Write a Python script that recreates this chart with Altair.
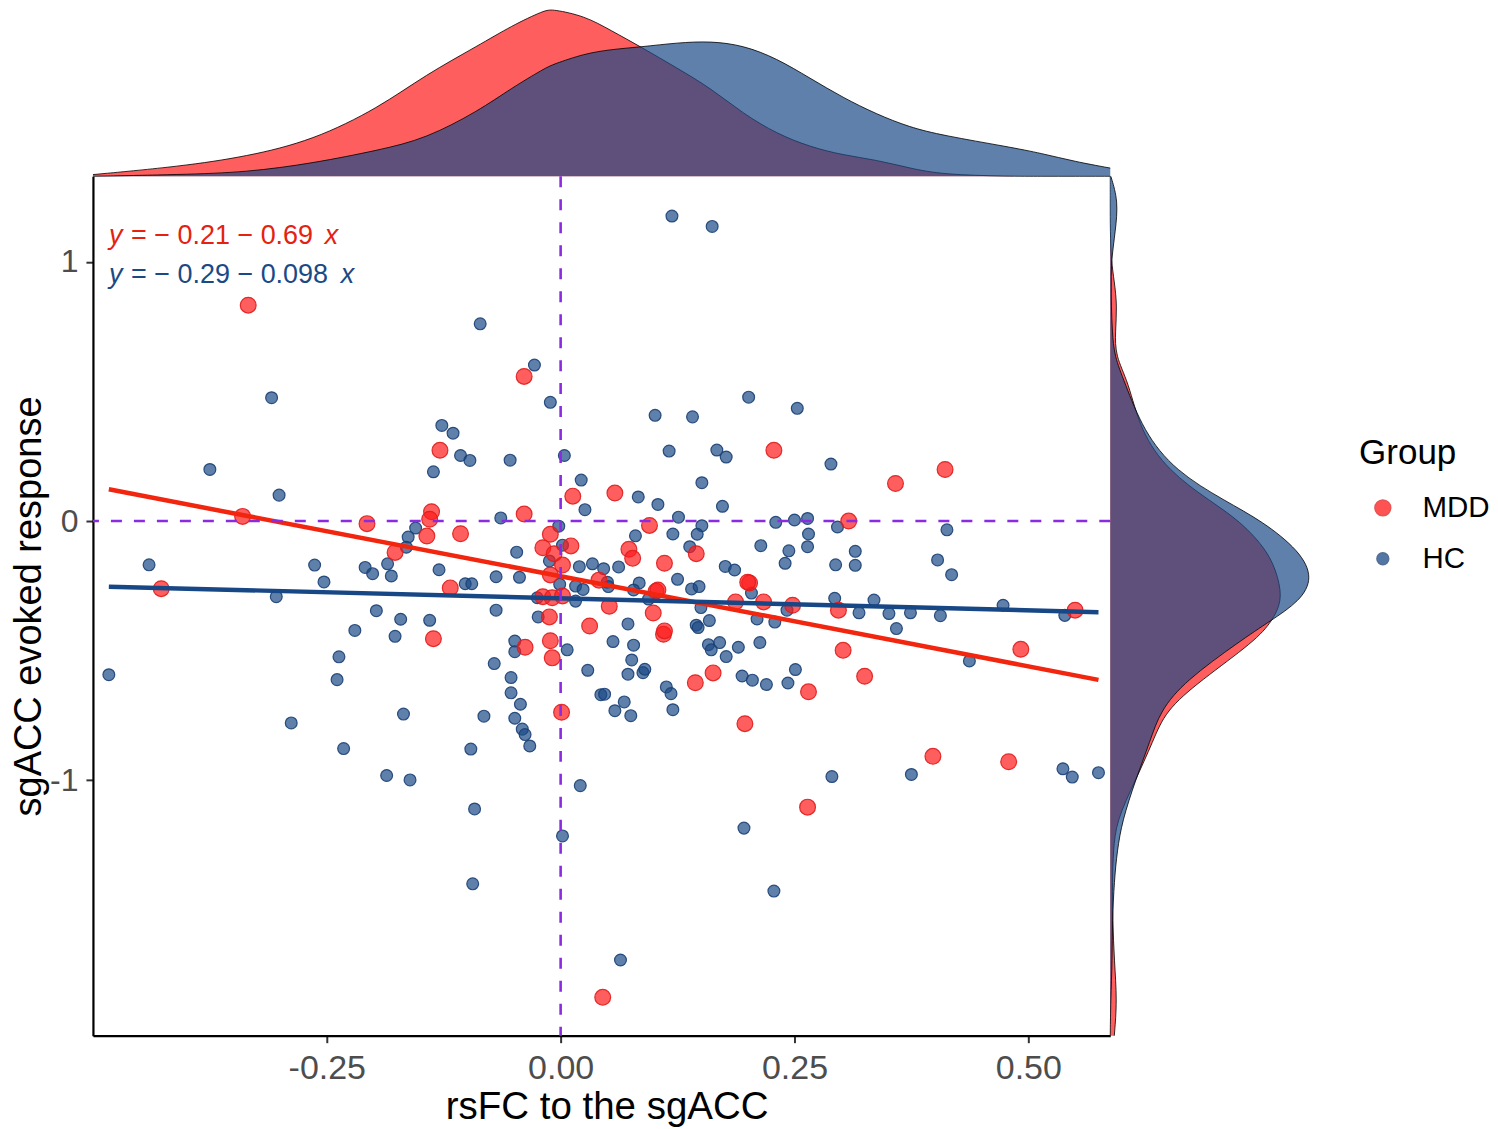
import altair as alt
import pandas as pd

# ---------------- data ----------------
hc_x = [-0.309, -0.086, -0.028, -0.011, -0.127, -0.115, -0.107, -0.097, -0.054, 0.004,
        -0.375, -0.136, 0.119, 0.162, 0.201, 0.101, 0.141, 0.253, 0.116, 0.167,
        0.177, 0.289, 0.151, -0.301, 0.022, 0.026, -0.064, -0.002, -0.155, -0.163,
        -0.165, -0.047, -0.440, -0.263, -0.209, -0.201, -0.185, -0.181, -0.130, -0.069,
        -0.044, -0.102, -0.095, -0.012, 0.020, 0.034, 0.002, -0.253, -0.304, -0.025,
        0.016, -0.001, 0.016, -0.197, -0.171, -0.140, -0.069, -0.024, -0.220, -0.177,
        -0.049, -0.049, 0.007, -0.237, -0.483, -0.239, -0.071, -0.053, 0.029, -0.053,
        -0.043, 0.043, -0.168, -0.288, -0.082, -0.049, -0.041, -0.038, -0.033, -0.232,
        -0.096, 0.083, 0.104, 0.173, 0.126, 0.151, 0.146, 0.120, 0.080, 0.138,
        0.230, 0.250, 0.264, 0.265, 0.264, 0.296, 0.214, 0.244, 0.240, 0.294,
        0.046, 0.062, 0.176, 0.186, 0.125, 0.084, 0.050, 0.051, 0.024, 0.078,
        0.140, 0.148, 0.094, 0.150, 0.204, 0.293, 0.242, 0.210, 0.229, 0.072,
        0.159, 0.145, 0.147, 0.056, 0.078, 0.158, 0.161, 0.170, 0.177, 0.190,
        0.213, 0.076, 0.072, 0.088, 0.090, 0.194, 0.205, 0.220, 0.243, 0.251,
        0.047, 0.068, 0.058, 0.075, 0.113, 0.118, 0.120, 0.315, 0.413, 0.315,
        0.403, 0.418, 0.335, 0.319, 0.351, 0.374, 0.406, 0.359, 0.473, 0.539,
        0.437, -0.186, -0.161, 0.021, -0.092, 0.002, -0.094, 0.290, 0.375, 0.537,
        0.547, 0.575, 0.196, 0.228, 0.064]
hc_y = [0.476, 0.761, 0.602, 0.458, 0.369, 0.339, 0.253, 0.234, 0.235, 0.253,
        0.199, 0.190, 1.177, 1.137, 0.478, 0.408, 0.402, 0.435, 0.270, 0.274,
        0.247, 0.220, 0.148, 0.100, 0.158, 0.044, 0.012, -0.020, -0.027, -0.062,
        -0.101, -0.120, -0.169, -0.170, -0.179, -0.203, -0.165, -0.212, -0.188, -0.215,
        -0.217, -0.242, -0.242, -0.154, -0.176, -0.165, -0.093, -0.235, -0.292, -0.296,
        -0.309, -0.244, -0.251, -0.346, -0.379, -0.383, -0.344, -0.370, -0.422, -0.445,
        -0.463, -0.504, -0.497, -0.524, -0.593, -0.612, -0.550, -0.604, -0.576, -0.663,
        -0.707, -0.670, -0.745, -0.779, -0.753, -0.761, -0.803, -0.824, -0.868, -0.878,
        -0.880, 0.093, 0.064, 0.057, 0.015, -0.018, -0.051, -0.050, -0.057, -0.099,
        -0.005, 0.004, 0.010, -0.050, -0.099, -0.023, -0.095, -0.115, -0.163, -0.169,
        -0.184, -0.177, -0.175, -0.189, -0.225, -0.239, -0.236, -0.253, -0.264, -0.266,
        -0.262, -0.253, -0.301, -0.334, -0.278, -0.298, -0.344, -0.378, -0.390, -0.397,
        -0.384, -0.402, -0.411, -0.465, -0.479, -0.477, -0.497, -0.469, -0.523, -0.487,
        -0.469, -0.536, -0.591, -0.585, -0.572, -0.598, -0.614, -0.631, -0.625, -0.573,
        -0.668, -0.698, -0.732, -0.751, -0.640, -0.666, -0.728, -0.117, -0.034, -0.171,
        -0.150, -0.207, -0.305, -0.354, -0.357, -0.354, -0.365, -0.415, -0.325, -0.364,
        -0.540, -0.982, -0.999, -1.021, -1.111, -1.215, -1.400, -0.986, -0.978, -0.956,
        -0.988, -0.971, -1.185, -1.428, -1.694]

mdd_x = [-0.334, -0.039, -0.129, 0.228, 0.411, 0.358, -0.340, -0.207, -0.138, -0.140,
         -0.143, -0.107, -0.177, -0.039, 0.013, -0.011, -0.019, -0.007, 0.011, 0.002,
         -0.011, 0.041, -0.427, -0.118, -0.019, -0.009, 0.002, -0.012, 0.031, -0.136,
         -0.038, -0.011, -0.009, 0.001, 0.058, 0.095, 0.073, 0.077, 0.111, 0.145,
         0.102, 0.104, 0.202, 0.200, 0.187, 0.217, 0.248, 0.297, 0.308, 0.052,
         0.099, 0.110, 0.111, 0.144, 0.163, 0.265, 0.302, 0.197, 0.550, 0.325,
         0.492, 0.398, 0.479, 0.264, 0.045]
mdd_y = [0.833, 0.558, 0.273, 0.273, 0.199, 0.145, 0.018, -0.010, 0.036, 0.007,
         -0.058, -0.049, -0.121, 0.027, 0.096, -0.051, -0.103, -0.126, -0.096, -0.170,
         -0.208, -0.228, -0.261, -0.258, -0.292, -0.296, -0.289, -0.370, -0.405, -0.454,
         -0.487, -0.462, -0.528, -0.738, 0.108, -0.017, -0.109, -0.144, -0.163, -0.126,
         -0.271, -0.266, -0.239, -0.236, -0.312, -0.312, -0.325, -0.344, 0.000, -0.329,
         -0.355, -0.437, -0.424, -0.624, -0.586, -0.659, -0.499, -0.782, -0.344, -0.599,
         -0.495, -0.908, -0.929, -1.104, -1.838]

# marginal density curves (relative height)
top_grid = [-0.500, -0.4065, -0.3357, -0.2648, -0.194, -0.1444, -0.0877, -0.0523, -0.0169,
            -0.0083, 0.0256, 0.054, 0.0858, 0.1248, 0.1602, 0.1956, 0.2311, 0.2665,
            0.3019, 0.3374, 0.3728, 0.4082, 0.4791, 0.5144, 0.5499, 0.5876]
top_mdd = [0.010, 0.059, 0.118, 0.215, 0.412, 0.608, 0.784, 0.902, 0.996,
           1.000, 0.961, 0.873, 0.775, 0.647, 0.529, 0.373, 0.255, 0.176,
           0.127, 0.098, 0.049, 0.010, 0.0, 0.0, 0.0, 0.0]
top_hc = [0.0, 0.010, 0.024, 0.078, 0.157, 0.225, 0.392, 0.529, 0.647,
          0.670, 0.735, 0.760, 0.775, 0.800, 0.810, 0.784, 0.706, 0.588,
          0.471, 0.373, 0.294, 0.245, 0.176, 0.137, 0.088, 0.049]

right_grid = [1.330, 1.234, 1.118, 1.003, 0.926, 0.829, 0.733, 0.636, 0.540, 0.347,
              0.193, 0.077, 0.0, -0.116, -0.220, -0.309, -0.386, -0.463, -0.617, -0.733,
              -0.848, -1.003, -1.157, -1.273, -1.388, -1.543, -1.697, -1.851, -1.986]
right_mdd = [0.0, 0.0, 0.0, 0.005, 0.020, 0.034, 0.025, 0.025, 0.089, 0.148,
             0.286, 0.493, 0.640, 0.778, 0.830, 0.847, 0.798, 0.714, 0.443, 0.271,
             0.212, 0.123, 0.030, 0.015, 0.010, 0.012, 0.020, 0.034, 0.020]
right_hc = [0.003, 0.040, 0.025, 0.005, 0.005, 0.005, 0.010, 0.020, 0.069, 0.163,
            0.320, 0.567, 0.749, 0.936, 1.000, 0.936, 0.788, 0.640, 0.369, 0.246,
            0.197, 0.123, 0.059, 0.034, 0.020, 0.010, 0.010, 0.002, 0.0]

groups = ["MDD", "HC"]
x_ticks = [-0.25, 0.0, 0.25, 0.5]
y_ticks = [-1, 0, 1]
eq_mdd = "= \u2212 0.21 \u2212 0.69"
eq_hc = "= \u2212 0.29 \u2212 0.098"
x_title = "rsFC to the sgACC"
y_title = "sgACC evoked response"
legend_title = "Group"

X_DOMAIN = [-0.5, 0.5876]
Y_DOMAIN = [-1.986, 1.3305]

# ---------------- styles ----------------
FONT = "Liberation Sans"
RED, BLUE = "#FF1A1A", "#1A4A86"
RED_EDGE, BLUE_EDGE = "#E01C1C", "#1A3F73"
RED_LINE, BLUE_LINE = "#F2250F", "#174785"
RED_TXT, BLUE_TXT = "#E5220F", "#1A4A86"
PURPLE = "#8A2BE2"
W, H = 1018, 860
TOP_H, RIGHT_W = 167, 203
NOFRAME = alt.ViewBackground(stroke="transparent", strokeWidth=0)

df = pd.DataFrame({
    "x": hc_x + mdd_x,
    "y": hc_y + mdd_y,
    "group": ["HC"] * len(hc_x) + ["MDD"] * len(mdd_x),
})
x_ext = [float(min(hc_x + mdd_x)), float(max(hc_x + mdd_x))]

top_df = pd.DataFrame({"value": top_grid * 2, "density": top_mdd + top_hc,
                       "group": ["MDD"] * len(top_grid) + ["HC"] * len(top_grid)})
right_df = pd.DataFrame({"value": right_grid * 2, "density": right_mdd + right_hc,
                         "group": ["MDD"] * len(right_grid) + ["HC"] * len(right_grid)})

xs = alt.Scale(domain=X_DOMAIN, nice=False, zero=False)
ys = alt.Scale(domain=Y_DOMAIN, nice=False, zero=False)

common_axis = dict(grid=False, domainColor="black", domainWidth=2.2, tickColor="#333333",
                   tickWidth=2, tickSize=7, labelColor="#4D4D4D", labelFont=FONT,
                   titleFont=FONT, titleColor="black", titleFontWeight="normal",
                   labelFlush=False, labelOverlap=False)

x_axis = alt.Axis(values=x_ticks, format=".2f", labelExpr="replace(datum.label, '\u2212', '-')",
                  title=x_title, labelFontSize=34, titleFontSize=38.5, labelPadding=9,
                  titlePadding=3, titleX=514, **common_axis)
y_axis = alt.Axis(values=y_ticks, format="d", labelExpr="replace(datum.label, '\u2212', '-')",
                  title=y_title, labelFontSize=32, titleFontSize=38, labelPadding=8,
                  titlePadding=1, **common_axis)

legend = alt.Legend(title=legend_title, orient="none", legendX=1267, legendY=427,
                    titleFontSize=35, titleFont=FONT, titleFontWeight="normal", titleColor="black",
                    labelFontSize=29.5, labelFont=FONT, labelColor="black", rowPadding=20,
                    titlePadding=22, symbolOffset=9, labelOffset=25, symbolOpacity=0.75, padding=0)

pts = alt.Chart(df).mark_circle(fillOpacity=0.7, strokeOpacity=0.9, strokeWidth=1.2, opacity=1).encode(
    x=alt.X("x:Q", scale=xs, axis=x_axis),
    y=alt.Y("y:Q", scale=ys, axis=y_axis),
    color=alt.Color("group:N", scale=alt.Scale(domain=groups, range=[RED, BLUE]), legend=legend,
                    title=legend_title),
    size=alt.Size("group:N", scale=alt.Scale(domain=groups, range=[250, 140]), legend=legend,
                  title=legend_title),
    stroke=alt.Stroke("group:N", scale=alt.Scale(domain=groups, range=[RED_EDGE, BLUE_EDGE]),
                      legend=None),
)


def reg(g, color):
    return alt.Chart(df).transform_filter(alt.datum.group == g).transform_regression(
        "x", "y", extent=x_ext).mark_line(color=color, strokeWidth=4.5).encode(
        x=alt.X("x:Q", scale=xs), y=alt.Y("y:Q", scale=ys))


zero_df = pd.DataFrame({"v": [0.0]})
vrule = alt.Chart(zero_df).mark_rule(color=PURPLE, strokeDash=[11, 12], strokeWidth=2.6).encode(
    x=alt.X("v:Q", scale=xs))
hrule = alt.Chart(zero_df).mark_rule(color=PURPLE, strokeDash=[11, 12], strokeWidth=2.6).encode(
    y=alt.Y("v:Q", scale=ys))


def txt(s, color, px, py, italic=False):
    return alt.Chart(pd.DataFrame({"t": [s]})).mark_text(
        align="left", baseline="alphabetic", fontSize=27, font=FONT, color=color,
        fontStyle="italic" if italic else "normal").encode(
        x=alt.value(px), y=alt.value(py), text="t:N")


texts = [
    txt("y", RED_TXT, 16, 68, True), txt(eq_mdd, RED_TXT, 38, 68), txt("x", RED_TXT, 232, 68, True),
    txt("y", BLUE_TXT, 16, 107, True), txt(eq_hc, BLUE_TXT, 38, 107), txt("x", BLUE_TXT, 248, 107, True),
]

main = alt.layer(pts, reg("MDD", RED_LINE), reg("HC", BLUE_LINE), vrule, hrule, *texts).properties(
    width=W, height=H, view=NOFRAME)


def marg(data, g, color, horizontal=False):
    base = alt.Chart(data).transform_filter(alt.datum.group == g)
    dscale = alt.Scale(zero=True, nice=False)
    if not horizontal:
        enc = dict(x=alt.X("value:Q", scale=alt.Scale(domain=X_DOMAIN, nice=False, zero=False), axis=None),
                   y=alt.Y("density:Q", scale=dscale, axis=None))
        area = base.mark_area(color=color, opacity=0.7, interpolate="basis").encode(**enc)
        line = base.mark_line(color="black", strokeWidth=0.8, interpolate="basis").encode(
            order=alt.Order("value:Q"), **enc)
    else:
        enc = dict(y=alt.Y("value:Q", scale=alt.Scale(domain=Y_DOMAIN, nice=False, zero=False), axis=None),
                   x=alt.X("density:Q", scale=dscale, axis=None))
        area = base.mark_area(color=color, opacity=0.7, orient="horizontal", interpolate="basis").encode(**enc)
        line = base.mark_line(color="black", strokeWidth=0.8, interpolate="basis").encode(
            order=alt.Order("value:Q"), **enc)
    return [area, line]


top = alt.layer(*marg(top_df, "MDD", RED), *marg(top_df, "HC", BLUE)).properties(
    width=W, height=TOP_H, view=NOFRAME)
right = alt.layer(*marg(right_df, "MDD", RED, True), *marg(right_df, "HC", BLUE, True)).properties(
    width=RIGHT_W, height=H, view=NOFRAME)

row = alt.hconcat(main, right, spacing=0, bounds="flush")
chart = alt.vconcat(top, row, spacing=0, bounds="flush").properties(
    padding={"left": 2, "top": 0, "right": 0, "bottom": 0}).configure_view(
    stroke="transparent", strokeWidth=0).configure(font=FONT)

chart.save("out.html", embed_options={"renderer": "svg", "actions": False})
